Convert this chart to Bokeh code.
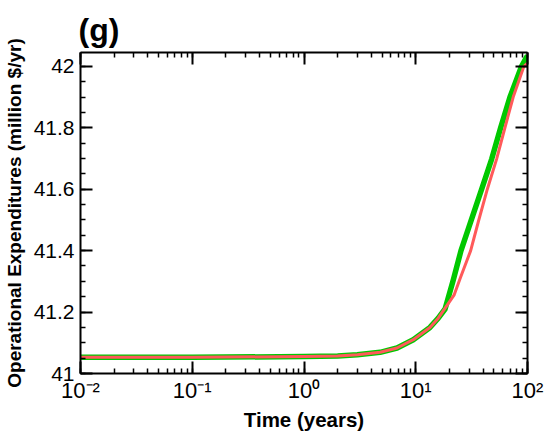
from bokeh.plotting import figure
from bokeh.models import (LogAxis, LinearAxis, SingleIntervalTicker, LogTicker,
                          CustomJSTickFormatter, Range1d)
from bokeh.embed import file_html
from bokeh.resources import INLINE

# ---- data ----
time_green = [0.01, 0.1, 1, 2, 3, 4.8, 6.8, 9.5, 13.4, 15.9, 18.3, 21.7, 25.4, 31.0,
              38.9, 47.8, 57.5, 69.7, 88.5, 100]
opex_green = [41.053, 41.053, 41.055, 41.057, 41.061, 41.069, 41.083, 41.110, 41.150, 41.180,
              41.210, 41.305, 41.400, 41.494, 41.600, 41.698, 41.800, 41.900, 42.000, 42.035]

time_red = [0.01, 0.1, 1, 2, 3, 4.8, 6.8, 9.5, 13.4, 15.9, 18.9, 22.0, 25.0, 31.0, 36.3,
            43.7, 52.9, 62.8, 74.5, 92.9, 100]
opex_red = [41.053, 41.053, 41.055, 41.057, 41.061, 41.069, 41.083, 41.110, 41.150, 41.180,
            41.220, 41.255, 41.310, 41.400, 41.494, 41.600, 41.698, 41.800, 41.900, 42.000, 42.010]

x_limits = [0.01, 100]
y_limits = [41.0, 42.045]

title_text = "(g)"
x_label = "Time (years)"
y_label = "Operational Expenditures (million $/yr)"

FONT = "Liberation Sans"

p = figure(width=549, height=433, x_axis_type="log",
           x_range=Range1d(*x_limits), y_range=Range1d(*y_limits),
           output_backend="svg", toolbar_location=None,
           min_border_left=80, min_border_right=22, min_border_top=52, min_border_bottom=57)
p.grid.visible = False
p.outline_line_color = None
p.background_fill_color = "white"
p.border_fill_color = "white"

p.title.text = title_text
p.title.text_font = FONT
p.title.text_font_style = "bold"
p.title.text_font_size = "32px"
p.title.text_color = "black"
p.title.align = "left"
p.title.offset = -2
p.title.standoff = 10

p.line(time_green, opex_green, line_color="#00C800", line_width=5.5, line_join="round")
p.line(time_red, opex_red, line_color="#FF5A5A", line_width=3, line_join="round")

sup_js = """
const m = {'-':'\u207b','0':'\u2070','1':'\u00b9','2':'\u00b2','3':'\u00b3','4':'\u2074',
           '5':'\u2075','6':'\u2076','7':'\u2077','8':'\u2078','9':'\u2079'};
const e = Math.round(Math.log10(tick));
return '10' + String(e).split('').map(c => m[c]).join('');
"""
log_fmt = CustomJSTickFormatter(code=sup_js)
y_fmt = CustomJSTickFormatter(code="return String(Math.round(tick*10)/10);")
blank_fmt = CustomJSTickFormatter(code="return '';")


def style(ax):
    ax.axis_line_width = 2
    ax.axis_line_color = "black"
    ax.major_tick_line_width = 2
    ax.major_tick_line_color = "black"
    ax.minor_tick_line_width = 1.5
    ax.minor_tick_line_color = "black"
    ax.major_tick_in = 12
    ax.major_tick_out = 0
    ax.minor_tick_in = 5
    ax.minor_tick_out = 0
    ax.major_label_text_font = FONT
    ax.major_label_text_font_size = "21px"
    ax.major_label_text_color = "black"
    ax.axis_label_text_font = FONT
    ax.axis_label_text_font_style = "bold"
    ax.axis_label_text_font_size = "19px"
    ax.axis_label_text_color = "black"


xa = p.xaxis[0]
xa.ticker = LogTicker(num_minor_ticks=10)
xa.formatter = log_fmt
xa.axis_label = x_label
style(xa)
xa.major_label_text_font_size = "22px"
xa.axis_label_text_font_size = "20.5px"
xa.major_label_standoff = 4
xa.axis_label_standoff = 2

ya = p.yaxis[0]
ya.ticker = SingleIntervalTicker(interval=0.2, num_minor_ticks=4)
ya.formatter = y_fmt
ya.axis_label = y_label
style(ya)
ya.major_label_standoff = 6
ya.axis_label_standoff = 6

top = LogAxis(ticker=LogTicker(num_minor_ticks=10), formatter=blank_fmt)
style(top)
top.major_label_text_font_size = "0px"
top.major_label_standoff = 0
p.add_layout(top, "above")

right = LinearAxis(ticker=SingleIntervalTicker(interval=0.2, num_minor_ticks=4), formatter=blank_fmt)
style(right)
right.major_label_text_font_size = "0px"
right.major_label_standoff = 0
p.add_layout(right, "right")

open("out.html", "w").write(file_html(p, INLINE))
